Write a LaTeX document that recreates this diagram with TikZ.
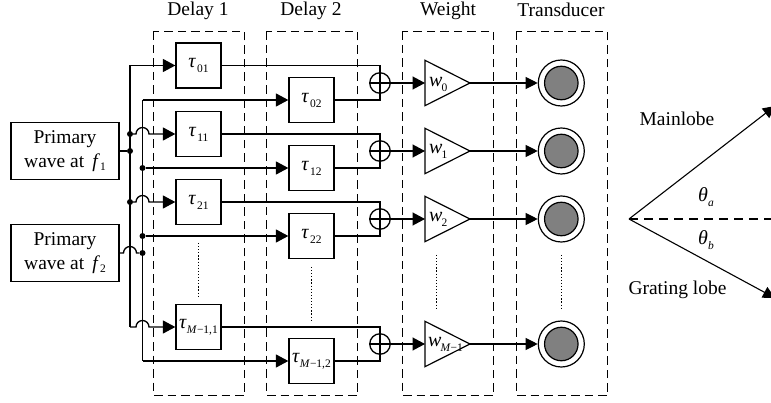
\documentclass[tikz,border=0pt]{standalone}
\usepackage{fontspec}
\setmainfont{Liberation Serif}
\usetikzlibrary{arrows.meta}
\newcommand{\mainsz}{\fontsize{19.5}{23.5}\selectfont}
\newcommand{\subsz}{\fontsize{11.5}{12}\selectfont}
\newcommand{\symb}[3][1pt]{{\fontsize{20}{23}\selectfont\textit{#2}}\kern#1\raisebox{-5pt}{\subsz #3}}
\tikzset{
  x=1pt,y=-1pt,
  wire/.style={line width=1.3pt},
  sig/.style={wire,-{Triangle[length=12.5pt,width=13pt]}},
  thin sig/.style={line width=1.1pt,-{Triangle[length=12pt,width=12pt]}},
  group/.style={draw,line width=1.2pt,dash pattern=on 8.5pt off 5pt},
  delaybox/.style={draw,line width=1.3pt,minimum width=45pt,minimum height=45pt,inner sep=0pt,font=\mainsz},
  srcbox/.style={draw,line width=1.3pt,minimum width=108pt,minimum height=56.5pt,inner sep=0pt,align=center,font=\mainsz},
  label/.style={font=\mainsz,inner sep=0pt},
  dotnode/.style={circle,fill=black,minimum size=6pt,inner sep=0pt},
  summer/.style={circle,draw,line width=1.3pt,minimum size=20.5pt,inner sep=0pt},
  outer/.style={circle,draw,line width=1.2pt,minimum size=46pt,inner sep=0pt},
  innerc/.style={circle,draw,line width=1.2pt,fill=black!50,minimum size=33.5pt,inner sep=0pt},
  dots/.style={line width=1pt,dash pattern=on 1.2pt off 1.9pt}
}
\begin{document}
\begin{tikzpicture}
\useasboundingbox (0,0) rectangle (771,403);
\fill[white] (0,0) rectangle (771,403);
% headers
\node[label] (h1) at (198,11) {Delay 1};
\node[label] (h2) at (311,11) {Delay 2};
\node[label] (h3) at (448,11) {Weight};
\node[label] (h4) at (561,10) {Transducer};
% groups
\draw[group] (153.5,31.5) rectangle (244.5,395.5);
\draw[group] (266.5,31.5) rectangle (357.5,395.5);
\draw[group] (402.5,31.5) rectangle (493.5,395.5);
\draw[group] (516.5,31.5) rectangle (607.5,395.5);
% sources
\node[srcbox] (f1) at (65,151) {Primary\\wave at \,\textit{f}\raisebox{-3pt}{\subsz 1}};
\node[srcbox] (f2) at (65,253) {Primary\\wave at \,\textit{f}\raisebox{-3pt}{\subsz 2}};
% delay boxes
\node[delaybox] (d01) at (198.5,65.5) {\symb{τ}{01}};
\node[delaybox] (d11) at (198.5,134) {\symb{τ}{11}};
\node[delaybox] (d21) at (198.5,202) {\symb{τ}{21}};
\node[delaybox] (d31) at (198.5,327) {\symb[0pt]{τ}{\textit{M}−1,1}};
\node[delaybox] (d02) at (311.5,100) {\symb{τ}{02}};
\node[delaybox] (d12) at (311.5,168) {\symb{τ}{12}};
\node[delaybox] (d22) at (311.5,236) {\symb{τ}{22}};
\node[delaybox] (d32) at (311.5,361) {\symb[0pt]{τ}{\textit{M}−1,2}};
% bus junctions
\coordinate (b1t) at (130,65.5);
\coordinate (b1b) at (130,327);
\node[dotnode] (b11) at (130,134) {};
\node[dotnode] (b1s) at (130,151) {};
\node[dotnode] (b12) at (130,202) {};
\coordinate (b2t) at (142.5,100);
\coordinate (b2b) at (142.5,361);
\node[dotnode] (b21) at (142.5,168) {};
\node[dotnode] (b22) at (142.5,236) {};
\node[dotnode] (b2s) at (142.5,253) {};
\draw[wire] (b1t) -- (b1b);
\draw[wire] (b2t) -- (b2b);
% source to bus
\draw[wire] (f1.east) -- (b1s);
\draw[wire] (f2.east) -- (123.5,253) arc[start angle=180,end angle=360,radius=6.5] -- (b2s);
% first delay inputs
\draw[sig] (b1t) -- (d01.west);
\draw[sig] (b11) -- (136,134) arc[start angle=180,end angle=360,radius=6.5] -- (d11.west);
\draw[sig] (b12) -- (136,202) arc[start angle=180,end angle=360,radius=6.5] -- (d21.west);
\draw[sig] (b1b) -- (136,327) arc[start angle=180,end angle=360,radius=6.5] -- (d31.west);
% second delay inputs
\draw[sig] (b2t) -- (d02.west);
\draw[sig] (b21) -- (d12.west);
\draw[sig] (b22) -- (d22.west);
\draw[sig] (b2b) -- (d32.west);
% rows: summer, weight, transducer
\foreach \n/\y/\a/\b in {0/83/d01/d02,1/151/d11/d12,2/219/d21/d22,3/344/d31/d32}{
  \node[summer] (s\n) at (380,\y) {};
  \draw[line width=1.2pt] (s\n.north) -- (s\n.south);
  \draw[line width=1.2pt] (s\n.west) -- (s\n.east);
  \draw[wire] (\a.east) -| (s\n.north);
  \draw[wire] (\b.east) -| (s\n.south);
  \coordinate (ti\n) at (425,\y);
  \coordinate (to\n) at (470,\y);
  \draw[line width=1.2pt] (425,\y-22.7) -- (to\n) -- (425,\y+22.7) -- cycle;
  \draw[sig] (s\n.east) -- (ti\n);
  \node[outer] (t\n) at (561.3,\y) {};
  \node[innerc] (c\n) at (561.3,\y) {};
  \draw[thin sig] (to\n) -- (t\n.west);
}
% weight labels
\node[label,anchor=west] (l0) at (429,84) {\symb[-1pt]{w}{0}};
\node[label,anchor=west] (l1) at (429,151) {\symb[-1pt]{w}{1}};
\node[label,anchor=west] (l2) at (429,219) {\symb[-1pt]{w}{2}};
\node[label,anchor=west] (l3) at (428,344) {\symb[-1pt]{w}{\textit{M}−1}};
% vertical dots
\draw[dots] (198.5,243) -- (198.5,297);
\draw[dots] (311.5,267) -- (311.5,320);
\draw[dots] (436,255) -- (436,308);
\draw[dots] (561,255) -- (561,308);
% beam pattern
\coordinate (o) at (629,219);
\coordinate (ma) at (775,106);
\coordinate (gr) at (775,298);
\coordinate (ax) at (771,219);
\draw[line width=1.2pt,dash pattern=on 9pt off 6pt] (o) -- (ax);
\draw[thin sig] (o) -- (ma);
\draw[thin sig] (o) -- (gr);
\node[label] (ml) at (677,119) {Mainlobe};
\node[label] (gl) at (677.5,290) {Grating lobe};
\node[label] (ta) at (706,197) {\symb[0pt]{θ}{\textit{a}}};
\node[label] (tb) at (706,240) {\symb[0pt]{θ}{\textit{b}}};
\end{tikzpicture}
\end{document}
